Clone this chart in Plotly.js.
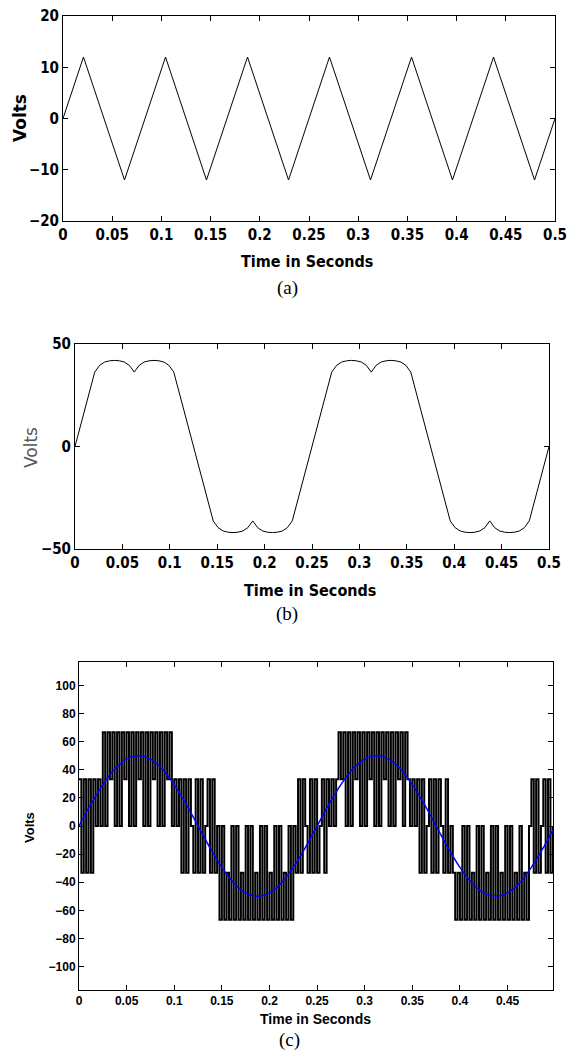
<!DOCTYPE html>
<html>
<head>
<meta charset="utf-8">
<script src="https://cdn.plot.ly/plotly-3.0.1.min.js"></script>
<style>html,body{margin:0;padding:0;background:#fff;}#chart{width:574px;height:1050px;}</style>
</head>
<body>
<div id="chart"></div>
<script>
// ---------- DATA ----------
// (a) triangular carrier: vertex times (s) and voltages (V)
const timeA = [0, 0.0208, 0.0625, 0.1042, 0.1458, 0.1875, 0.2292, 0.2708, 0.3125, 0.3542, 0.3958, 0.4375, 0.4792, 0.5];
const voltsA = [0, 12, -12, 12, -12, 12, -12, 12, -12, 12, -12, 12, -12, 0];

// (b) output voltage waveform
const timeB = [0,
  0.0208, 0.0260, 0.0313, 0.0365, 0.0417, 0.0469, 0.0521, 0.0573, 0.0625,
  0.0677, 0.0729, 0.0781, 0.0833, 0.0885, 0.0938, 0.0990, 0.1042,
  0.1458, 0.1510, 0.1563, 0.1615, 0.1667, 0.1719, 0.1771, 0.1823, 0.1875,
  0.1927, 0.1979, 0.2031, 0.2083, 0.2135, 0.2188, 0.2240, 0.2292,
  0.2708, 0.2760, 0.2813, 0.2865, 0.2917, 0.2969, 0.3021, 0.3073, 0.3125,
  0.3177, 0.3229, 0.3281, 0.3333, 0.3385, 0.3438, 0.3490, 0.3542,
  0.3958, 0.4010, 0.4063, 0.4115, 0.4167, 0.4219, 0.4271, 0.4323, 0.4375,
  0.4427, 0.4479, 0.4531, 0.4583, 0.4635, 0.4688, 0.4740, 0.4792,
  0.5];
const voltsB = [0,
  36.3, 39.6, 41.2, 41.8, 42, 41.8, 41.2, 39.6, 36.3,
  39.6, 41.2, 41.8, 42, 41.8, 41.2, 39.6, 36.3,
  -36.3, -39.6, -41.2, -41.8, -42, -41.8, -41.2, -39.6, -36.3,
  -39.6, -41.2, -41.8, -42, -41.8, -41.2, -39.6, -36.3,
  36.3, 39.6, 41.2, 41.8, 42, 41.8, 41.2, 39.6, 36.3,
  39.6, 41.2, 41.8, 42, 41.8, 41.2, 39.6, 36.3,
  -36.3, -39.6, -41.2, -41.8, -42, -41.8, -41.2, -39.6, -36.3,
  -39.6, -41.2, -41.8, -42, -41.8, -41.2, -39.6, -36.3,
  0];

// (c) multilevel PWM output: level index per sample (1 level = 33.33 V)
const pwmStepSeconds = 0.0025;
const pwmLevelVolts = 100 / 3;
const pwmLevels = [
  1,-1,1,-1,1,-1,1,
  0,1,0,
  2,0,2,1,2,0,2,0,2,1, 2,0,2,0,2,1,2,0,2,0, 2,1,2,0,2,0,2,1,2,0,
  1,0,1,
  -1,1,-1,1,0,-1,1,-1,1,-1,0,1,-1,1,
  -1,0,
  -2,0,-2,-1,-2,0,-2,0,-2,-1, -2,0,-2,0,-2,-1,-2,0,-2,0, -2,-1,-2,0,-2,0,-2,-1,-2,0, -2,0,
  -1,1,-1,1,0,-1,1,-1,1,-1,0,1,-1,1,0,
  1,0,1,
  2,1,2,0,2,0,2,1,2,0, 2,0,2,1,2,0,2,0,2,1, 2,0,2,0,2,1,2,0,2,1,
  0,1,0,
  1,-1,1,-1,0,1,-1,1,-1,1,0,-1,1,-1,
  0,-1,
  -2,-1,-2,0,-2,0,-2,-1,-2,0, -2,0,-2,-1,-2,0,-2,0,-2,-1, -2,0,-2,0,-2,-1,-2,0,-2,-1, -2,0,
  1,-1,1,-1,0,1,-1,1,-1,0
];
// (c) reference sine (V)
const timeSine = [0, 0.0125, 0.025, 0.0375, 0.05, 0.0625, 0.075, 0.0875, 0.1, 0.1125,
  0.125, 0.1375, 0.15, 0.1625, 0.175, 0.1875, 0.2, 0.2125, 0.225, 0.2375,
  0.25, 0.2625, 0.275, 0.2875, 0.3, 0.3125, 0.325, 0.3375, 0.35, 0.3625,
  0.375, 0.3875, 0.4, 0.4125, 0.425, 0.4375, 0.45, 0.4625, 0.475, 0.4875, 0.5];
const voltsSine = [0, 15.5, 29.4, 40.5, 47.6, 50, 47.6, 40.5, 29.4, 15.5,
  0, -15.5, -29.4, -40.5, -47.6, -50, -47.6, -40.5, -29.4, -15.5,
  0, 15.5, 29.4, 40.5, 47.6, 50, 47.6, 40.5, 29.4, 15.5,
  0, -15.5, -29.4, -40.5, -47.6, -50, -47.6, -40.5, -29.4, -15.5, 0];

// ---------- LAYOUT HELPERS ----------
const W = 574, H = 1050;
const px = x => x / W;
const py = y => 1 - y / H;

const pwmTime = pwmLevels.map((_, i) => i * pwmStepSeconds);
const pwmVolts = pwmLevels.map(l => l * pwmLevelVolts);

const narrow = "Liberation Sans Narrow, DejaVu Sans Condensed, Arial Narrow, sans-serif";
const arial = "Liberation Sans, Arial, sans-serif";
const serif = "Liberation Serif, Times New Roman, serif";

function axisBase(extra) {
  return Object.assign({
    showline: true, mirror: 'ticks', linecolor: '#000', linewidth: 1,
    ticks: 'inside', ticklen: 5, tickcolor: '#000', tickwidth: 1,
    showgrid: false, zeroline: false, fixedrange: true
  }, extra);
}

const traces = [
  {x: timeA, y: voltsA, xaxis: 'x', yaxis: 'y', mode: 'lines', line: {color: '#000', width: 1}},
  {x: timeB, y: voltsB, xaxis: 'x2', yaxis: 'y2', mode: 'lines', line: {color: '#000', width: 1}},
  {x: pwmTime, y: pwmVolts, xaxis: 'x3', yaxis: 'y3', mode: 'lines', line: {color: '#000', width: 2, shape: 'hv'}},
  {x: timeSine, y: voltsSine, xaxis: 'x3', yaxis: 'y3', mode: 'lines', line: {color: '#0000ff', width: 1.5, shape: 'spline'}}
];

const tfAB = {family: narrow, size: 15, color: '#000', weight: 'bold'};
const tfC = {family: arial, size: 12, color: '#000', weight: 'bold'};

function ann(text, x, y, font, angle) {
  return {text: text, x: px(x), y: py(y), xref: 'paper', yref: 'paper', showarrow: false,
    xanchor: 'center', yanchor: 'middle', textangle: angle || 0, font: font};
}

const layout = {
  width: W, height: H, margin: {l: 0, r: 0, t: 0, b: 0},
  paper_bgcolor: '#fff', plot_bgcolor: '#fff', showlegend: false,
  xaxis: axisBase({domain: [px(63), px(555)], anchor: 'y', range: [0, 0.5], tick0: 0, dtick: 0.05, tickfont: tfAB}),
  yaxis: axisBase({domain: [py(221), py(16)], anchor: 'x', range: [-20, 20], tick0: 0, dtick: 10, tickfont: tfAB}),
  xaxis2: axisBase({domain: [px(75), px(549)], anchor: 'y2', range: [0, 0.5], tick0: 0, dtick: 0.05, tickfont: tfAB}),
  yaxis2: axisBase({domain: [py(549), py(344)], anchor: 'x2', range: [-50, 50], tick0: 0, dtick: 50, tickfont: tfAB}),
  xaxis3: axisBase({domain: [px(79), px(553)], anchor: 'y3', range: [0, 0.4977], tick0: 0, dtick: 0.05, tickfont: tfC}),
  yaxis3: axisBase({domain: [py(990), py(662)], anchor: 'x3', range: [-116.7, 116.7], tick0: 0, dtick: 20, tickfont: tfC}),
  annotations: [
    ann('Volts', 20, 118, {family: 'DejaVu Sans', size: 17, color: '#000', weight: 'bold'}, -90),
    ann('Time in Seconds', 307, 262, {family: narrow, size: 16, color: '#000', weight: 'bold'}),
    ann('(a)', 287, 288, {family: serif, size: 19, color: '#000'}),
    ann('Volts', 31, 448, {family: 'DejaVu Sans', size: 17, color: '#555'}, -90),
    ann('Time in Seconds', 310, 590, {family: narrow, size: 16, color: '#000', weight: 'bold'}),
    ann('(b)', 287, 614, {family: serif, size: 19, color: '#000'}),
    ann('Volts', 29, 828, {family: arial, size: 13, color: '#000', weight: 'bold'}, -90),
    ann('Time in Seconds', 315, 1019, {family: arial, size: 14, color: '#000', weight: 'bold'}),
    ann('(c)', 289, 1040, {family: serif, size: 19, color: '#000'})
  ]
};

Plotly.newPlot('chart', traces, layout, {displayModeBar: false, staticPlot: true});
</script>
</body>
</html>
